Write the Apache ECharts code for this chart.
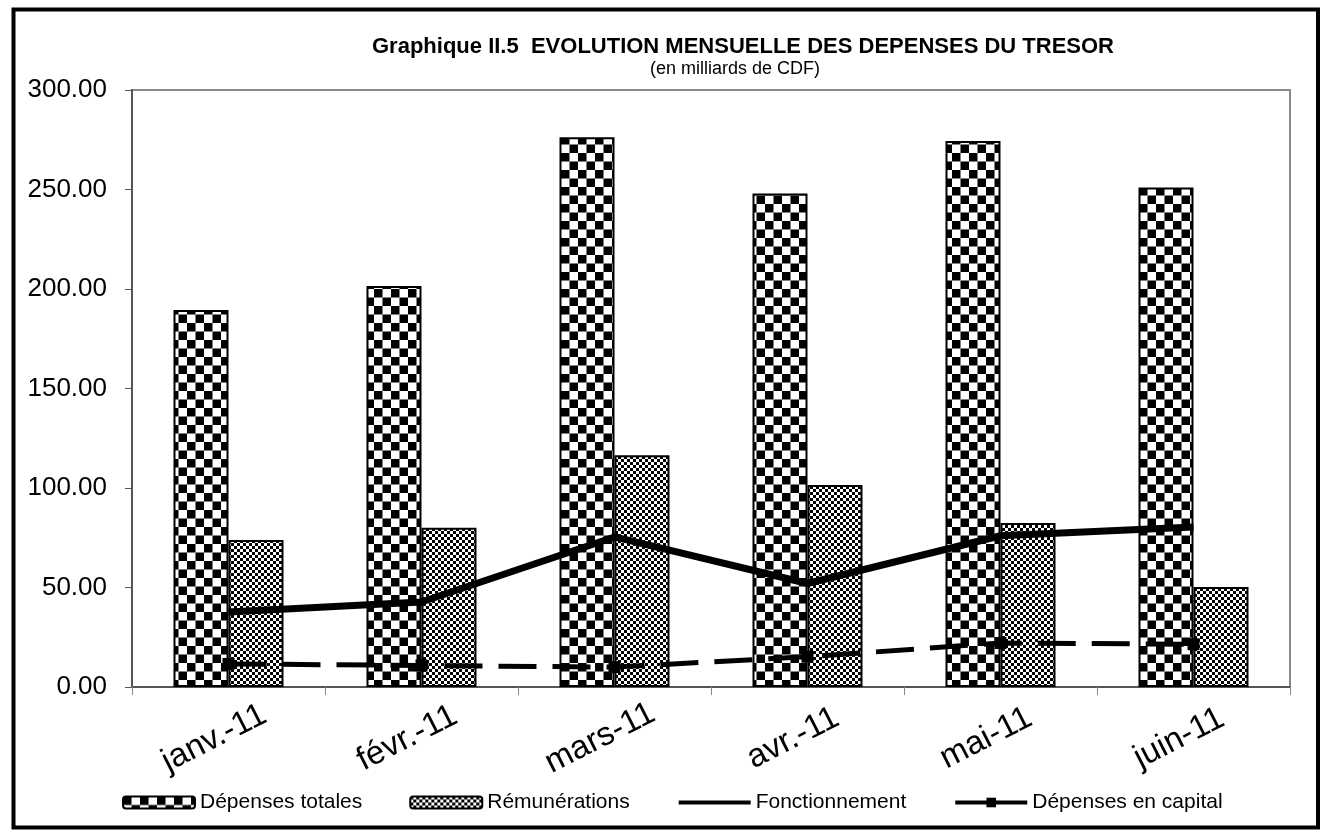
<!DOCTYPE html>
<html>
<head>
<meta charset="utf-8">
<title>Dépenses du Trésor</title>
<script src="https://cdn.jsdelivr.net/npm/echarts@6/dist/echarts.min.js"></script>
<style>
  html, body { margin: 0; padding: 0; background: #fff; }
  #chart { width: 1323px; height: 834px; }
</style>
</head>
<body>
<div id="chart"></div>
<script>
// données (en milliards de CDF)
const months = ["janv.-11", "févr.-11", "mars-11", "avr.-11", "mai-11", "juin-11"];
const depensesTotales = [189.5, 201.5, 276.3, 248.0, 274.4, 251.0];
const remunerations = [73.9, 80.0, 116.5, 101.5, 82.4, 50.2];
const fonctionnement = [37.7, 42.7, 75.4, 52.0, 76.0, 80.4];
const depensesCapital = [11.6, 10.8, 10.0, 15.2, 22.1, 21.5];
const yTicks = [0, 50, 100, 150, 200, 250, 300];

const FONT = "Liberation Sans, Arial, sans-serif";

// motifs de remplissage (damier)
function makePattern (size, cell) {
  const c = document.createElement("canvas");
  c.width = size;
  c.height = size;
  const ctx = c.getContext("2d");
  ctx.fillStyle = "#fff";
  ctx.fillRect(0, 0, size, size);
  ctx.fillStyle = "#000";
  ctx.fillRect(0, 0, cell, cell);
  ctx.fillRect(cell, cell, cell, cell);
  return { image: c, repeat: "repeat" };
}
const bigChecker = makePattern(17, 8.5);
const smallChecker = makePattern(6, 3);

const chart = echarts.init(document.getElementById("chart"), null, { renderer: "canvas" });

const option = {
  animation: false,
  backgroundColor: "#fff",
  textStyle: { fontFamily: FONT, color: "#000" },
  title: [
    {
      text: "Graphique II.5  EVOLUTION MENSUELLE DES DEPENSES DU TRESOR",
      left: 738,
      top: 31,
      textAlign: "center",
      textStyle: { fontFamily: FONT, fontSize: 22, fontWeight: "bold", color: "#000" },
    },
    {
      text: "(en milliards de CDF)",
      left: 730,
      top: 55,
      textAlign: "center",
      textStyle: { fontFamily: FONT, fontSize: 18, fontWeight: "normal", color: "#000" },
    }
  ],
  legend: {
    left: 122,
    top: 792,
    padding: 0,
    itemWidth: 72,
    itemHeight: 12,
    itemGap: 47,
    textStyle: { fontFamily: FONT, fontSize: 21, color: "#000" },
    data: [
      { name: "Dépenses totales" },
      { name: "Rémunérations" },
      { name: "Fonctionnement", itemStyle: { opacity: 0 }, lineStyle: { width: 4 } },
      { name: "Dépenses en capital", lineStyle: { type: "solid", width: 4 } },
    ],
  },
  graphic: [
    {
      type: "rect",
      shape: { x: 13.5, y: 9.5, width: 1304.5, height: 818 },
      style: { fill: "none", stroke: "#000", lineWidth: 4 },
      silent: true,
    }
  ],
  grid: {
    left: 132,
    right: 33,
    top: 90,
    bottom: 147,
    show: true,
    borderColor: "#888",
    borderWidth: 2,
    containLabel: false,
  },
  xAxis: {
    type: "category",
    data: months,
    boundaryGap: true,
    axisLine: { lineStyle: { color: "#555", width: 2 } },
    axisTick: { show: true, length: 8, lineStyle: { color: "#888", width: 1 } },
    axisLabel: {
      rotate: 27,
      fontFamily: FONT,
      fontSize: 33,
      color: "#000",
      align: "center",
      verticalAlign: "middle",
      padding: [0, 32, 0, 0],
      margin: 44,
    },
  },
  yAxis: {
    type: "value",
    min: yTicks[0],
    max: yTicks[yTicks.length - 1],
    interval: 50,
    splitLine: { show: false },
    axisLine: { show: true, lineStyle: { color: "#555", width: 2 } },
    axisTick: { show: true, length: 7, lineStyle: { color: "#555" } },
    axisLabel: {
      fontFamily: FONT,
      fontSize: 26,
      color: "#000",
      margin: 25,
      formatter: (v) => v.toFixed(2),
    },
  },
  series: [
    {
      name: "Dépenses totales",
      type: "bar",
      data: depensesTotales,
      barGap: "0%",
      barCategoryGap: "43%",
      itemStyle: { color: bigChecker, borderColor: "#000", borderWidth: 2 },
    },
    {
      name: "Rémunérations",
      type: "bar",
      data: remunerations,
      barGap: "0%",
      barCategoryGap: "43%",
      itemStyle: { color: smallChecker, borderColor: "#000", borderWidth: 2 },
    },
    {
      name: "Fonctionnement",
      type: "line",
      data: fonctionnement,
      symbol: "none",
      z: 5,
      itemStyle: { color: "#000" },
      lineStyle: { color: "#000", width: 7 },
    },
    {
      name: "Dépenses en capital",
      type: "line",
      data: depensesCapital,
      symbol: "rect",
      symbolSize: 12,
      z: 5,
      itemStyle: { color: "#000" },
      lineStyle: { color: "#000", width: 5, type: [38, 16] },
    }
  ],
};

chart.setOption(option);

window.addEventListener("resize", () => {
  chart.resize();
});
</script>
</body>
</html>
